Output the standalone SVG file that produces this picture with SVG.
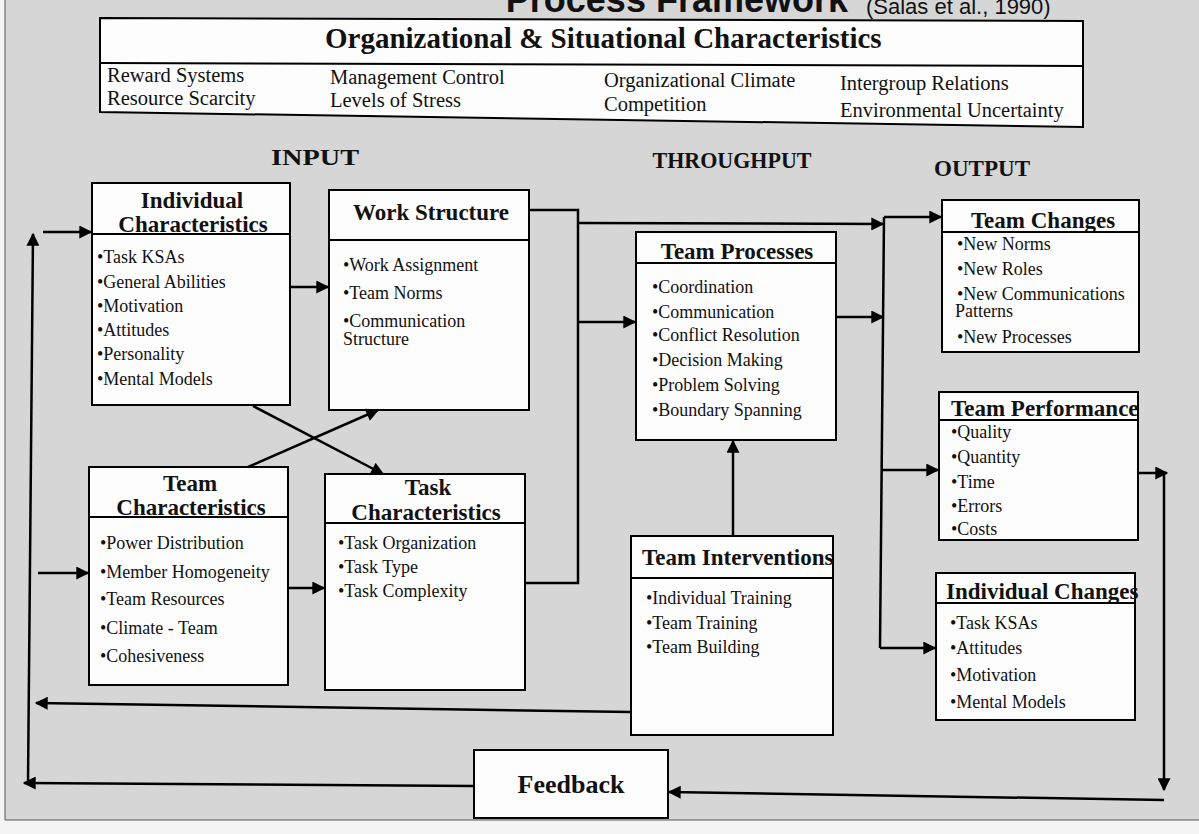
<svg xmlns="http://www.w3.org/2000/svg" width="1199" height="834" viewBox="0 0 1199 834">
<defs>
<marker id="ah" viewBox="0 0 10 10" refX="9" refY="5" markerUnits="userSpaceOnUse" markerWidth="15" markerHeight="13" orient="auto">
<path d="M0,0 L10,5 L0,10 z" fill="#000"/>
</marker>
<style>
.bg{fill:#d6d6d6}
.box{fill:#fdfdfd;stroke:#000;stroke-width:2}
.dv{stroke:#000;stroke-width:2}
.hd{font-family:"Liberation Serif","Times New Roman",serif;font-weight:bold;font-size:23px;fill:#111}
.it{font-family:"Liberation Serif","Times New Roman",serif;font-size:18px;fill:#111}
.og{font-family:"Liberation Serif","Times New Roman",serif;font-size:20.5px;fill:#111}
.sec{font-family:"Liberation Serif","Times New Roman",serif;font-weight:bold;font-size:23px;fill:#111}
.mid{text-anchor:middle}
.conn path{fill:none;stroke:#000;stroke-width:2.5}
.arr{marker-end:url(#ah)}
</style>
</defs>
<rect x="0" y="0" width="1199" height="834" fill="#f4f4f4"/>
<rect class="bg" x="5" y="0" width="1194" height="820"/>
<path d="M5,0 L5,820 L1199,820" fill="none" stroke="#555" stroke-width="1"/>

<g id="title">
<text x="848" y="12" text-anchor="end" style="font-family:'Liberation Sans',Arial,sans-serif;font-weight:bold;font-size:36px;fill:#111">Process Framework</text>
<text x="866" y="14" style="font-family:'Liberation Sans',Arial,sans-serif;font-size:22px;fill:#111">(Salas et al., 1990)</text>
</g>

<g id="org">
<polygon class="box" points="100,18 1083,21 1083,127 100,112"/>
<line class="dv" x1="100" y1="63" x2="1083" y2="66"/>
<text class="hd" x="325" y="48" style="font-size:29px">Organizational &amp; Situational Characteristics</text>
<text class="og" x="107" y="82">Reward Systems</text>
<text class="og" x="107" y="105">Resource Scarcity</text>
<text class="og" x="330" y="84">Management Control</text>
<text class="og" x="330" y="107">Levels of Stress</text>
<text class="og" x="604" y="87">Organizational Climate</text>
<text class="og" x="604" y="111">Competition</text>
<text class="og" x="840" y="90">Intergroup Relations</text>
<text class="og" x="840" y="117">Environmental Uncertainty</text>
</g>

<g id="sections">
<text class="sec mid" x="315" y="165" textLength="88" lengthAdjust="spacingAndGlyphs">INPUT</text>
<text class="sec mid" x="732" y="168" textLength="159" lengthAdjust="spacingAndGlyphs">THROUGHPUT</text>
<text class="sec mid" x="982" y="176" textLength="96" lengthAdjust="spacingAndGlyphs">OUTPUT</text>
</g>

<g id="individual-characteristics">
<rect class="box" x="92" y="183" width="198" height="222"/>
<text class="hd mid" x="192" y="208">Individual</text>
<text class="hd mid" x="193" y="232">Characteristics</text>
<line class="dv" x1="92" y1="234" x2="290" y2="234"/>
<text class="it" x="97" y="263">•Task KSAs</text>
<text class="it" x="97" y="288">•General Abilities</text>
<text class="it" x="97" y="312">•Motivation</text>
<text class="it" x="97" y="336">•Attitudes</text>
<text class="it" x="97" y="360">•Personality</text>
<text class="it" x="97" y="385">•Mental Models</text>
</g>

<g id="work-structure">
<rect class="box" x="329" y="190" width="200" height="220"/>
<text class="hd mid" x="431" y="220">Work Structure</text>
<line class="dv" x1="329" y1="240" x2="529" y2="240"/>
<text class="it" x="343" y="271">•Work Assignment</text>
<text class="it" x="343" y="299">•Team Norms</text>
<text class="it" x="343" y="327">•Communication</text>
<text class="it" x="343" y="345">Structure</text>
</g>

<g id="team-characteristics">
<rect class="box" x="89" y="467" width="199" height="218"/>
<text class="hd mid" x="190" y="491">Team</text>
<text class="hd mid" x="191" y="515">Characteristics</text>
<line class="dv" x1="89" y1="517" x2="288" y2="517"/>
<text class="it" x="100" y="549">•Power Distribution</text>
<text class="it" x="100" y="578">•Member Homogeneity</text>
<text class="it" x="100" y="605">•Team Resources</text>
<text class="it" x="100" y="634">•Climate - Team</text>
<text class="it" x="100" y="662">•Cohesiveness</text>
</g>

<g id="task-characteristics">
<rect class="box" x="325" y="474" width="200" height="216"/>
<text class="hd mid" x="428" y="495">Task</text>
<text class="hd mid" x="426" y="520">Characteristics</text>
<line class="dv" x1="325" y1="523" x2="525" y2="523"/>
<text class="it" x="338" y="549">•Task Organization</text>
<text class="it" x="338" y="573">•Task Type</text>
<text class="it" x="338" y="597">•Task Complexity</text>
</g>

<g id="team-processes">
<rect class="box" x="636" y="232" width="200" height="208"/>
<text class="hd mid" x="737" y="259">Team Processes</text>
<line class="dv" x1="636" y1="263" x2="836" y2="263"/>
<text class="it" x="652" y="293">•Coordination</text>
<text class="it" x="652" y="318">•Communication</text>
<text class="it" x="652" y="341">•Conflict Resolution</text>
<text class="it" x="652" y="366">•Decision Making</text>
<text class="it" x="652" y="391">•Problem Solving</text>
<text class="it" x="652" y="416">•Boundary Spanning</text>
</g>

<g id="team-interventions">
<rect class="box" x="631" y="536" width="202" height="199"/>
<text class="hd" x="642" y="565">Team Interventions</text>
<line class="dv" x1="631" y1="578" x2="833" y2="578"/>
<text class="it" x="646" y="604">•Individual Training</text>
<text class="it" x="646" y="629">•Team Training</text>
<text class="it" x="646" y="653">•Team Building</text>
</g>

<g id="team-changes">
<rect class="box" x="942" y="200" width="197" height="152"/>
<text class="hd mid" x="1043" y="228">Team Changes</text>
<line class="dv" x1="942" y1="232" x2="1139" y2="232"/>
<text class="it" x="957" y="250">•New Norms</text>
<text class="it" x="957" y="275">•New Roles</text>
<text class="it" x="957" y="300">•New Communications</text>
<text class="it" x="955" y="317">Patterns</text>
<text class="it" x="957" y="343">•New Processes</text>
</g>

<g id="team-performance">
<rect class="box" x="939" y="392" width="199" height="148"/>
<text class="hd" x="951" y="416">Team Performance</text>
<line class="dv" x1="939" y1="420" x2="1138" y2="420"/>
<text class="it" x="951" y="438">•Quality</text>
<text class="it" x="951" y="463">•Quantity</text>
<text class="it" x="951" y="488">•Time</text>
<text class="it" x="951" y="512">•Errors</text>
<text class="it" x="951" y="535">•Costs</text>
</g>

<g id="individual-changes">
<rect class="box" x="936" y="573" width="199" height="147"/>
<text class="hd" x="946" y="599">Individual Changes</text>
<line class="dv" x1="936" y1="603" x2="1135" y2="603"/>
<text class="it" x="950" y="629">•Task KSAs</text>
<text class="it" x="950" y="654">•Attitudes</text>
<text class="it" x="950" y="681">•Motivation</text>
<text class="it" x="950" y="708">•Mental Models</text>
</g>

<g id="feedback">
<rect class="box" x="474" y="750" width="194" height="68"/>
<text class="hd mid" x="571" y="793" style="font-size:26px">Feedback</text>
</g>

<g id="connectors" class="conn">
<path class="arr" d="M474,786 L24,783"/>
<path class="arr" d="M28,783 L33,234"/>
<path class="arr" d="M631,712 L36,703"/>
<path class="arr" d="M43,232 L91,232"/>
<path class="arr" d="M38,573 L88,573"/>
<path class="arr" d="M290,287 L328,287"/>
<path class="arr" d="M253,406 L383,474"/>
<path class="arr" d="M248,467 L378,410"/>
<path class="arr" d="M288,588 L324,588"/>
<path d="M529,210 L578,210 L578,583 L525,583"/>
<path class="arr" d="M578,322 L635,322"/>
<path class="arr" d="M578,223 L883,224"/>
<path class="arr" d="M836,317 L883,317"/>
<path d="M880,648 L884,217"/>
<path class="arr" d="M884,217 L941,217"/>
<path class="arr" d="M882,470 L938,470"/>
<path class="arr" d="M880,648 L935,648"/>
<path class="arr" d="M733,536 L733,441"/>
<path class="arr" d="M1138,473 L1167,473"/>
<path class="arr" d="M1164,473 L1164,790"/>
<path class="arr" d="M1164,800 L669,792"/>
</g>
</svg>
